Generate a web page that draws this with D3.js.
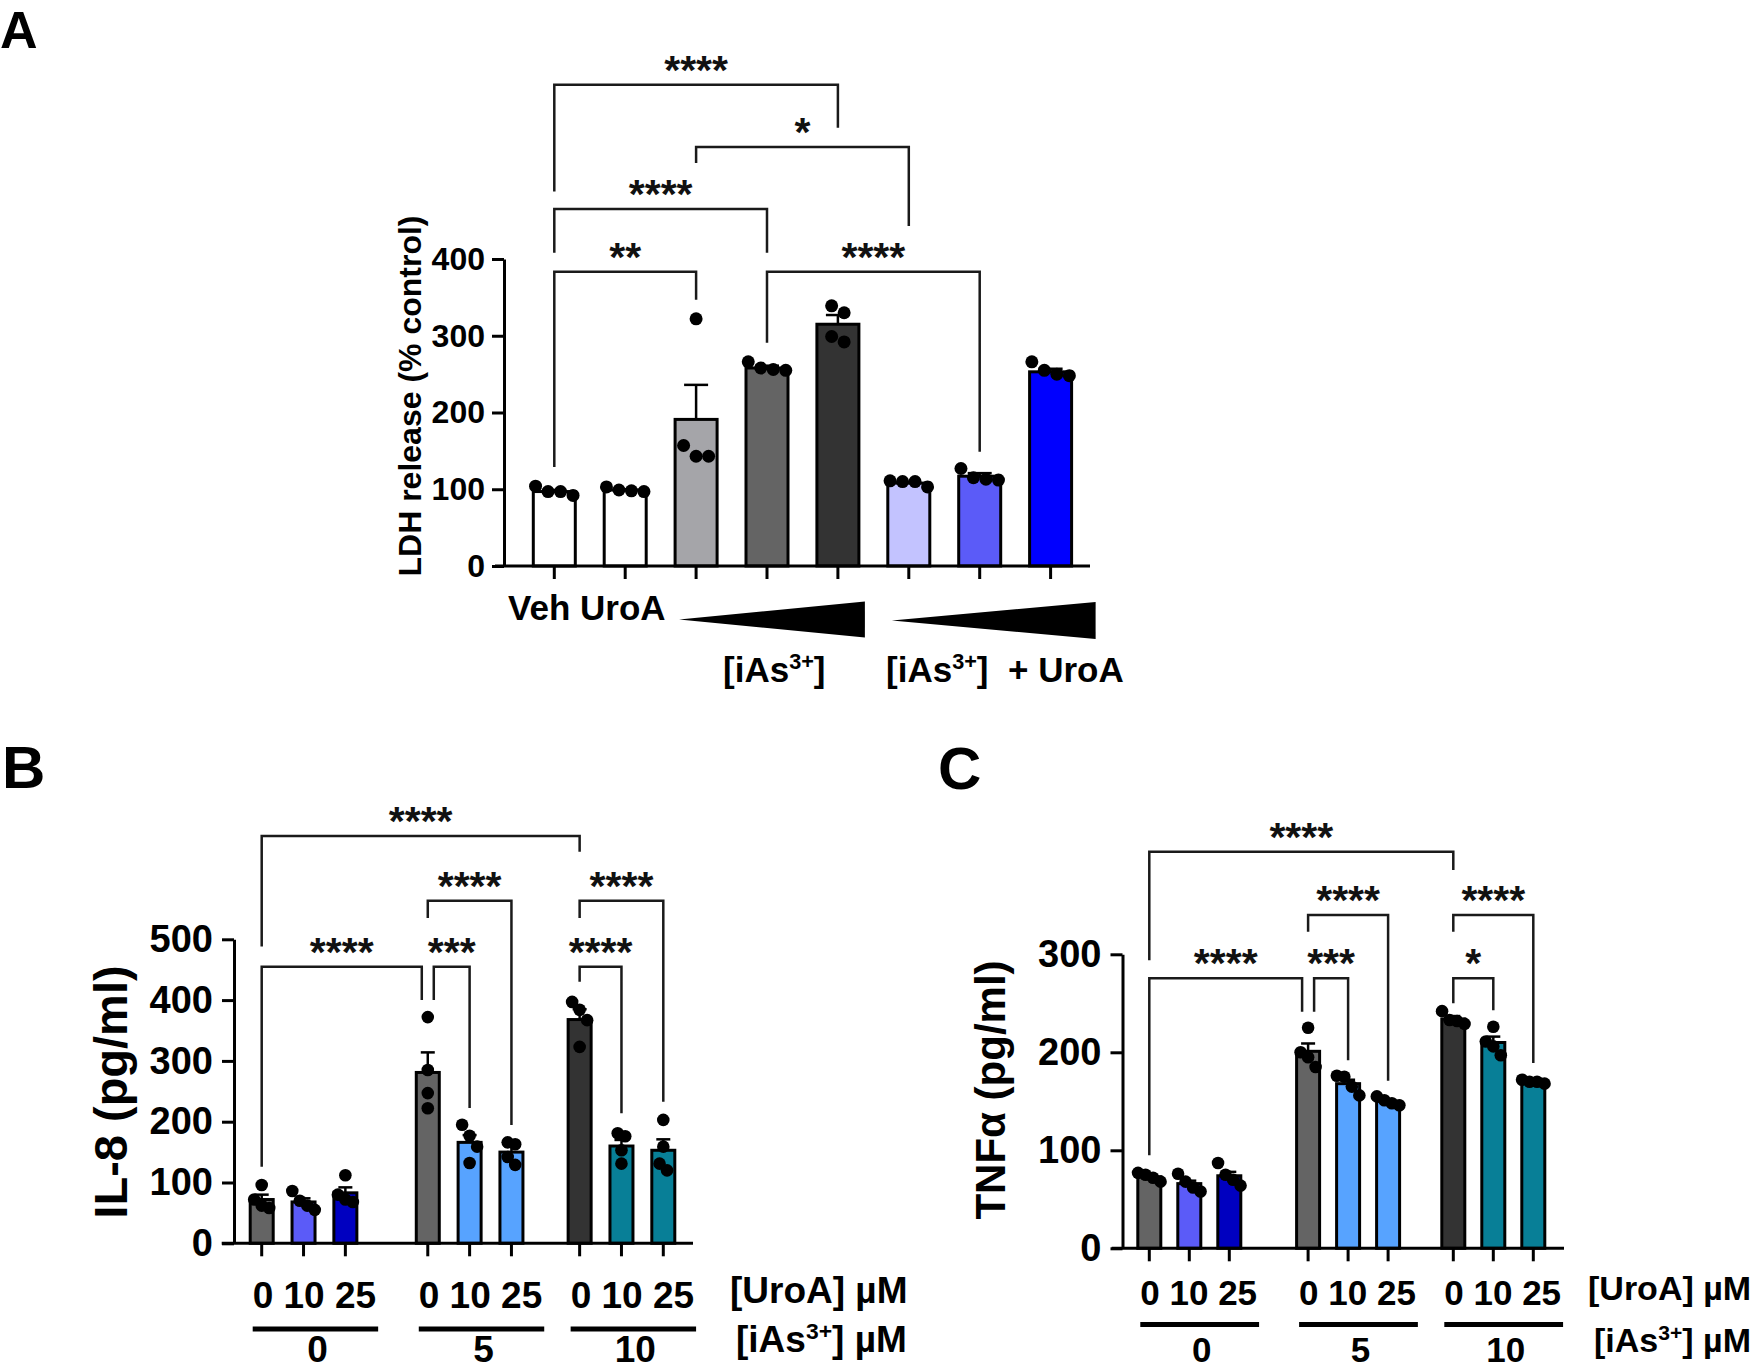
<!DOCTYPE html>
<html><head><meta charset="utf-8">
<script src="https://cdn.jsdelivr.net/npm/d3@7"></script>
<style>body{margin:0;background:#fff}svg{display:block}</style>
</head><body>
<script>
// ---------------- DATA ----------------
// Panel A: LDH release (% control)
const catsA = ["Veh","UroA","iAs low","iAs mid","iAs high","iAs+UroA low","iAs+UroA mid","iAs+UroA high"];
const meanA = [97, 99, 191, 258, 315, 108, 117, 253];
const semA  = [2, 1, 45, 3, 12, 1.5, 4, 4];
const ptsA  = [[104,97,97,92],[103,99,98,97],[322,157,143,143],[266,258,256,255],
               [339,330,292,299],[111,110,110,103],[127,115,113,112],[266,255,250,248]];
const ticksA = [0,100,200,300,400];
// [from, to, label, bracket level, left leg end, right leg end] (data units)
const bracketsA = [
  [0,4,"****",627,488,571],
  [2,5,"*",546,525,443],
  [0,3,"****",465,408,408],
  [0,2,"**",383.5,129,347],
  [3,6,"****",383.5,291,149]
];

// Panels B and C: groups = [iAs3+] µM, within group = [UroA] µM
const uroaLevels = ["0","10","25"];
const iasLevels  = ["0","5","10"];

// Panel B: IL-8 (pg/ml)
const meanB = [72, 68, 83, 281, 166, 150, 368, 160, 153];
const semB  = [8, 6, 9, 33, 12, 9, 17, 10, 18];
const ptsB  = [[96,72,62,58],[86,70,62,55],[112,80,72,68],[372,285,247,222],[195,177,159,132],
               [166,163,142,129],[397,384,367,323],[181,176,153,131],[203,159,131,120]];
const ticksB = [0,100,200,300,400,500];
const bracketsB = [
  [0,6,"****",670,488,644],
  [3,5,"****",563.5,535,194.6],
  [6,8,"****",563.5,535,233],
  [0,3,"****",455,126,400],
  [3,4,"***",455,400,222.5],
  [6,7,"****",455,430,214]
];

// Panel C: TNFα (pg/ml)
const meanC = [73, 66, 74, 201, 168, 150, 234, 210, 170];
const semC  = [2, 3, 4, 8, 4, 2, 3, 6, 1.5];
const ptsC  = [[77,75,72,68],[76,68,62,58],[87,75,70,64],[225,200,195,185],[176,175,165,156],
               [155,151,148,146],[242,233,232,229],[226,211,206,197],[172,170,168,170]];
const ticksC = [0,100,200,300];
const bracketsC = [
  [0,6,"****",404.7,294,386],
  [3,5,"****",340,323,171],
  [6,8,"****",340,323,189],
  [0,3,"****",275.5,95,241.4],
  [3,4,"***",275.5,241.4,192],
  [6,7,"*",275.5,250,243]
];

const colorsA  = ["#ffffff","#ffffff","#a5a5a9","#646464","#333333","#c3c3ff","#5b5bf8","#0000ff"];
const colorsBC = ["#646464","#5b5bf8","#0000c0","#646464","#57a3ff","#57a3ff","#333333","#087f97","#087f97"];

// ---------------- DRAWING ----------------
const FONT = '"Liberation Sans", Arial, Helvetica, sans-serif';
const svg = d3.select("body").append("svg").attr("width",1759).attr("height",1372)
  .attr("font-family", FONT);

function swarm(vals, y, r, spacing){
  const idx = vals.map((v,i)=>i).sort((a,b)=>vals[b]-vals[a]);
  const clusters=[]; let cur=[];
  idx.forEach(k=>{
    if(cur.length && Math.abs(y(vals[k]) - y(vals[cur[cur.length-1]])) >= 2*r){ clusters.push(cur); cur=[]; }
    cur.push(k);
  });
  if(cur.length) clusters.push(cur);
  const off = vals.map(()=>0);
  clusters.forEach(c=>c.forEach((k,j)=>{ off[k] = (j-(c.length-1)/2)*spacing; }));
  return off;
}

function drawPanel(o){
  const g = svg.append("g");
  const y = o.y, x = o.x;
  // bars
  o.means.forEach((m,i)=>{
    const cx = x(i);
    g.append("rect").attr("x",cx-o.barW/2).attr("y",y(m)).attr("width",o.barW).attr("height",y(0)-y(m))
      .attr("fill",o.colors[i]).attr("stroke","#000").attr("stroke-width",3);
    const ye = y(m+o.sems[i]);
    g.append("line").attr("x1",cx).attr("x2",cx).attr("y1",y(m)).attr("y2",ye).attr("stroke","#000").attr("stroke-width",2.5);
    g.append("line").attr("x1",cx-o.capW/2).attr("x2",cx+o.capW/2).attr("y1",ye).attr("y2",ye).attr("stroke","#000").attr("stroke-width",2.5);
  });
  // points
  o.pts.forEach((vals,i)=>{
    const off = swarm(vals,y,o.r,o.spacing);
    vals.forEach((v,j)=>{
      g.append("circle").attr("cx",x(i)+off[j]).attr("cy",y(v)).attr("r",o.r).attr("fill","#000");
    });
  });
  // y axis
  const gy = g.append("g").attr("transform",`translate(${o.axX},0)`)
    .call(d3.axisLeft(y).tickValues(o.ticks).tickSize(12).tickSizeOuter(0).tickPadding(o.tickPad));
  gy.select(".domain").attr("stroke","#000").attr("stroke-width",3);
  gy.selectAll(".tick line").attr("stroke","#000").attr("stroke-width",3);
  gy.selectAll(".tick text").attr("font-size",o.tickFs).attr("font-weight","bold")
    .attr("font-family",FONT).attr("fill","#000");
  // x axis line + ticks
  g.append("line").attr("x1",o.xStart).attr("x2",o.xEnd).attr("y1",y(0)).attr("y2",y(0))
    .attr("stroke","#000").attr("stroke-width",3);
  o.means.forEach((m,i)=>{
    g.append("line").attr("x1",x(i)).attr("x2",x(i)).attr("y1",y(0)).attr("y2",y(0)+13)
      .attr("stroke","#000").attr("stroke-width",3);
  });
  // y title
  g.append("text").attr("transform",`translate(${o.titleX},${o.titleY}) rotate(-90)`)
    .attr("text-anchor","middle").attr("font-weight","bold").attr("font-size",o.titleFs)
    .text(o.title);
  // brackets
  const ends = o.brackets.map(b=>({x1:x(b[0]), x2:x(b[1])}));
  o.brackets.forEach((b,i)=>{
    o.brackets.forEach((c,j)=>{
      if(i!==j && b[3]===c[3] && b[1]===c[0]){ ends[i].x2 -= 6; ends[j].x1 += 6; }
    });
  });
  o.brackets.forEach((b,i)=>{
    const {x1,x2} = ends[i];
    g.append("path").attr("d",`M${x1},${y(b[4])}V${y(b[3])}H${x2}V${y(b[5])}`)
      .attr("fill","none").attr("stroke","#1a1a1a").attr("stroke-width",2.5);
    g.append("text").attr("x",(x1+x2)/2).attr("y",y(b[3])-1).attr("text-anchor","middle")
      .attr("font-size",41).attr("font-weight","bold").attr("fill","#111").text(b[2]);
  });
  return g;
}

// ----- Panel A -----
const yA = d3.scaleLinear().domain([0,400]).range([566,259]);
const xAp = d3.scalePoint().domain(catsA).range([554.3,1050.6]);
const xA = i => xAp(catsA[i]);
const gA = drawPanel({x:xA, y:yA, means:meanA, sems:semA, pts:ptsA, colors:colorsA,
  barW:42, capW:24, r:6.5, spacing:12.5, axX:504, ticks:ticksA, tickPad:7, tickFs:32,
  xStart:495, xEnd:1090, title:"LDH release (% control)", titleX:421, titleY:396, titleFs:32,
  brackets:bracketsA});

function iasLabel(sel, fs, tail){
  sel.append("tspan").text("[iAs");
  sel.append("tspan").attr("font-size",fs*0.62).attr("dy",-fs*0.36).text("3+");
  sel.append("tspan").attr("dy",fs*0.36).text("]" + tail);
}
gA.append("text").attr("x",508).attr("y",620).attr("font-size",35).attr("font-weight","bold").text("Veh UroA");
const tri = (xl,xr,yc,h)=>`M${xl},${yc}L${xr},${yc-h/2}L${xr},${yc+h/2}Z`;
gA.append("path").attr("d",tri(xA(2)-17, xA(4)+27, 619.5, 36)).attr("fill","#000");
gA.append("path").attr("d",tri(xA(5)-17, xA(7)+45, 620.5, 37)).attr("fill","#000");
gA.append("text").attr("x",723).attr("y",682).attr("font-size",35).attr("font-weight","bold")
  .call(s=>iasLabel(s,35,""));
gA.append("text").attr("x",886).attr("y",682).attr("font-size",35).attr("font-weight","bold")
  .call(s=>iasLabel(s,35,"  + UroA")).attr("xml:space","preserve").style("white-space","pre");

// ----- Panels B & C -----
const groupSlots = [0, 3.97, 7.6];
const slot = i => groupSlots[Math.floor(i/3)] + (i%3);

function groupedPanel(p){
  const lin = d3.scaleLinear().domain([0,9.6]).range(p.xr);
  const x = i => lin(slot(i));
  const g = drawPanel({x, y:p.y, means:p.means, sems:p.sems, pts:p.pts, colors:colorsBC,
    barW:23, capW:14, r:6.3, spacing:7.5, axX:p.axX, ticks:p.ticks, tickPad:9, tickFs:38,
    xStart:p.xStart, xEnd:p.xEnd, title:p.title, titleX:p.titleX, titleY:p.titleY, titleFs:p.titleFs,
    brackets:p.brackets});
  iasLevels.forEach((lev,gi)=>{
    const t = g.append("text").attr("x",x(gi*3)-9).attr("y",p.row1).attr("font-size",p.fs)
      .attr("font-weight","bold").attr("xml:space","preserve").text(uroaLevels.join(" "));
    const w = t.node().getComputedTextLength();
    const x0 = x(gi*3)-9;
    g.append("line").attr("x1",x0).attr("x2",x0+w+2).attr("y1",p.uline).attr("y2",p.uline)
      .attr("stroke","#000").attr("stroke-width",5);
    g.append("text").attr("x",x0+w/2+3).attr("y",1362).attr("text-anchor","middle").attr("font-size",p.fs)
      .attr("font-weight","bold").text(lev);
  });
  g.append("text").attr("x",p.lblX).attr("y",p.row1-5).attr("font-size",p.lblFs).attr("font-weight","bold").text("[UroA] µM");
  g.append("text").attr("x",p.lblX+6).attr("y",1352).attr("font-size",p.lblFs).attr("font-weight","bold")
    .call(s=>iasLabel(s,p.lblFs," µM"));
  return g;
}

groupedPanel({y:d3.scaleLinear().domain([0,500]).range([1243.3,939.3]), xr:[261.7,663.3],
  means:meanB, sems:semB, pts:ptsB, ticks:ticksB, brackets:bracketsB, axX:234,
  xStart:221.7, xEnd:693, title:"IL-8 (pg/ml)", titleX:127, titleY:1092, titleFs:47,
  row1:1308, uline:1329, fs:37, lblX:730, lblFs:37});

groupedPanel({y:d3.scaleLinear().domain([0,300]).range([1248.3,954.3]), xr:[1149.3,1533.3],
  means:meanC, sems:semC, pts:ptsC, ticks:ticksC, brackets:bracketsC, axX:1122.5,
  xStart:1111.7, xEnd:1564, title:"TNFα (pg/ml)", titleX:1005, titleY:1090, titleFs:42,
  row1:1305, uline:1324.5, fs:35, lblX:1588, lblFs:34});

// Panel letters
[["A",0,47.5,52],["B",2,788,60],["C",938,789,60]].forEach(([t,x,y,fs])=>{
  svg.append("text").attr("x",x).attr("y",y).attr("font-size",fs).attr("font-weight","bold").text(t);
});
</script>
</body></html>
